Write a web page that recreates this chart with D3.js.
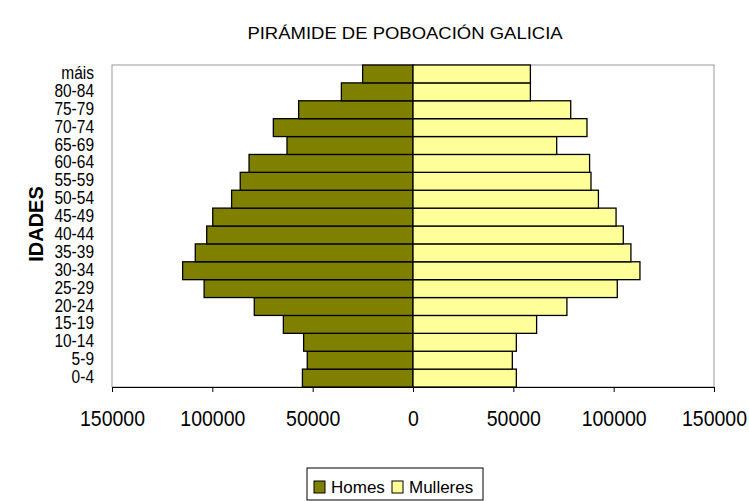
<!DOCTYPE html>
<html>
<head>
<meta charset="utf-8">
<script src="https://cdn.jsdelivr.net/npm/d3@7"></script>
<style>
  body { margin: 0; background: #fff; }
  text { font-family: "Liberation Sans", Arial, sans-serif; fill: #000; }
</style>
</head>
<body>
<script>
// age groups, bottom to top
var idades = ['0-4','5-9','10-14','15-19','20-24','25-29','30-34','35-39','40-44',
              '45-49','50-54','55-59','60-64','65-69','70-74','75-79','80-84','máis']
var homes = [55100, 52700, 54500, 64600, 79100, 104100, 114800, 108500, 102800,
             99800, 90400, 86100, 81700, 62800, 69600, 57000, 35700, 25100]
var mulleres = [51500, 49500, 51500, 61600, 76700, 101800, 113100, 108600, 104800,
                101200, 92400, 88700, 88000, 71600, 86700, 78600, 58500, 58500]
var ticks = [-150000, -100000, -50000, 0, 50000, 100000, 150000]

var width = 749, height = 501
var margin = {top: 65, left: 112, right: 35, bottom: 114}

var svg = d3.select('body').append('svg')
    .attr('width', width)
    .attr('height', height)

var x = d3.scaleLinear()
    .domain([-150000, 150000])
    .range([margin.left, width - margin.right])

var y = d3.scaleBand()
    .domain(idades.slice().reverse())
    .range([margin.top, height - margin.bottom])
    .padding(0)

// title (the original text is a bit wide and flat)
svg.append('text')
    .attr('transform', 'translate(405,39) scale(1,0.9)')
    .attr('text-anchor', 'middle')
    .style('font-size', '18.5px')
    .text('PIRÁMIDE DE POBOACIÓN GALICIA')

// plot frame
svg.append('rect')
    .attr('x', x(-150000)).attr('y', margin.top)
    .attr('width', x(150000) - x(-150000))
    .attr('height', height - margin.bottom - margin.top)
    .attr('fill', 'none')
    .attr('stroke', '#999')
    .attr('stroke-width', 1)

var bars = svg.append('g')

bars.selectAll('rect.h')
    .data(homes)
    .enter().append('rect')
    .attr('class', 'h')
    .attr('x', function (d) { return x(-d) })
    .attr('y', function (d, i) { return y(idades[i]) })
    .attr('width', function (d) { return x(0) - x(-d) })
    .attr('height', y.bandwidth())
    .attr('fill', '#808000')
    .attr('stroke', '#000')
    .attr('stroke-width', 1.3)

bars.selectAll('rect.m')
    .data(mulleres)
    .enter().append('rect')
    .attr('class', 'm')
    .attr('x', x(0))
    .attr('y', function (d, i) { return y(idades[i]) })
    .attr('width', function (d) { return x(d) - x(0) })
    .attr('height', y.bandwidth())
    .attr('fill', '#ffff99')
    .attr('stroke', '#000')
    .attr('stroke-width', 1.3)

// x axis
var xAxis = d3.axisBottom(x)
    .tickValues(ticks)
    .tickSize(5)
    .tickFormat(function (d) { return Math.abs(d) })

var gx = svg.append('g')
    .attr('transform', 'translate(0,' + (height - margin.bottom) + ')')
    .call(xAxis)
gx.select('.domain').attr('stroke', '#000')
gx.selectAll('.tick line').attr('stroke', '#000')
gx.selectAll('.tick text')
    .attr('y', 0).attr('dy', 0)
    .attr('transform', 'translate(0,39) scale(1,1.1)')
    .style('font-size', '19.5px')
    .style('font-family', '"Liberation Sans", Arial, sans-serif')
    .attr('fill', '#000')

// y labels, stretched upward like the original
svg.append('g').selectAll('text')
    .data(idades)
    .enter().append('text')
    .attr('transform', function (d) {
        return 'translate(94,' + (y(d) + y.bandwidth() / 2 + 5) + ') scale(1,1.2)'
    })
    .attr('text-anchor', 'end')
    .style('font-size', '15.5px')
    .text(function (d) { return d })

svg.append('text')
    .attr('transform', 'translate(43,224) rotate(-90)')
    .attr('text-anchor', 'middle')
    .style('font-size', '20px')
    .style('font-weight', 'bold')
    .text('IDADES')

// legend
var legend = svg.append('g').attr('transform', 'translate(307,468)')
legend.append('rect')
    .attr('width', 176).attr('height', 32)
    .attr('fill', '#fff').attr('stroke', '#000')

var items = [{name: 'Homes', color: '#808000'}, {name: 'Mulleres', color: '#ffff99'}]
var li = legend.selectAll('g.item')
    .data(items)
    .enter().append('g')
    .attr('transform', function (d, i) { return 'translate(' + (7 + i * 78) + ',0)' })
li.append('rect')
    .attr('y', 13).attr('width', 11).attr('height', 12)
    .attr('fill', function (d) { return d.color })
    .attr('stroke', '#000')
li.append('text')
    .attr('x', 17).attr('y', 25)
    .attr('transform', 'translate(0,0)')
    .style('font-size', '17px')
    .text(function (d) { return d.name })
</script>
</body>
</html>
